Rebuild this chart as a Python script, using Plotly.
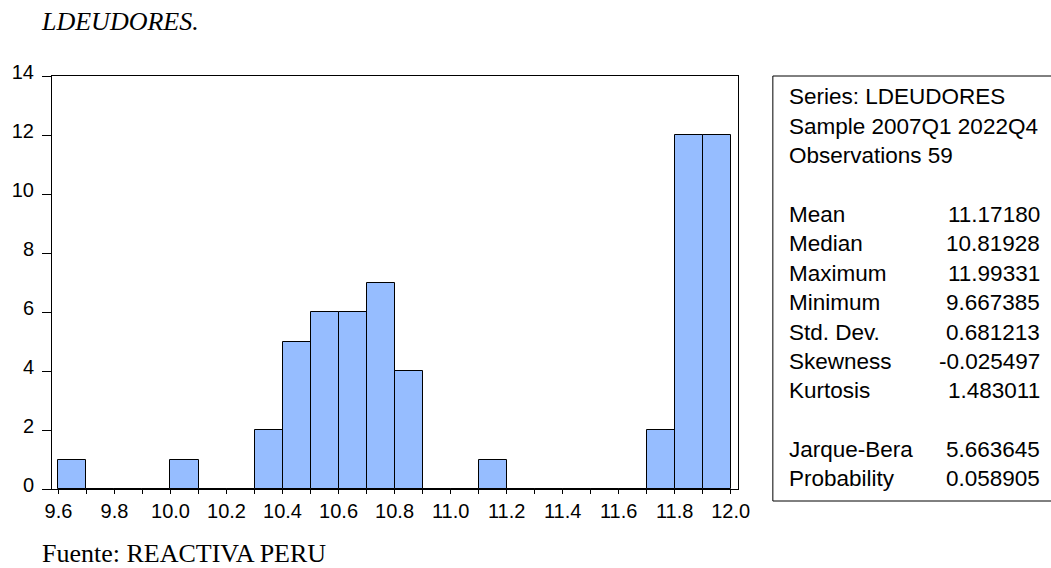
import plotly.graph_objects as go

# ---- data ----
bin_lefts = [9.6, 9.7, 9.8, 9.9, 10.0, 10.1, 10.2, 10.3, 10.4, 10.5, 10.6, 10.7,
             10.8, 10.9, 11.0, 11.1, 11.2, 11.3, 11.4, 11.5, 11.6, 11.7, 11.8, 11.9]
counts = [1, 0, 0, 0, 1, 0, 0, 2, 5, 6, 6, 7,
          4, 0, 0, 1, 0, 0, 0, 0, 0, 2, 12, 12]
bin_width = 0.1

x_tickvals = [9.6, 9.8, 10.0, 10.2, 10.4, 10.6, 10.8, 11.0, 11.2, 11.4, 11.6, 11.8, 12.0]
x_ticktext = ["9.6", "9.8", "10.0", "10.2", "10.4", "10.6", "10.8", "11.0", "11.2",
              "11.4", "11.6", "11.8", "12.0"]
y_tickvals = [0, 2, 4, 6, 8, 10, 12, 14]

header_lines = ["Series: LDEUDORES", "Sample 2007Q1 2022Q4", "Observations 59"]
stat_labels = ["Mean", "Median", "Maximum", "Minimum", "Std. Dev.", "Skewness", "Kurtosis"]
stat_values = ["11.17180", "10.81928", "11.99331", "9.667385", "0.681213", "-0.025497", "1.483011"]
test_labels = ["Jarque-Bera", "Probability"]
test_values = ["5.663645", "0.058905"]

title_text = "LDEUDORES."
source_text = "Fuente: REACTIVA PERU"

# ---- layout geometry (pixels) ----
W, H = 1051, 568
L, R, T, B = 49, 313, 76, 79
plot_w = W - L - R
plot_h = H - T - B


def px_x(p):
    return (p - L) / plot_w


def px_y(p):
    return (H - B - p) / plot_h


fig = go.Figure()
fig.add_trace(go.Bar(
    x=bin_lefts, y=counts, width=bin_width, offset=0,
    marker=dict(color="rgb(150,189,255)", line=dict(color="black", width=1)),
    hoverinfo="skip",
))

fig.update_xaxes(
    range=[9.577, 12.026], tickvals=x_tickvals, ticktext=x_ticktext,
    ticks="outside", ticklen=4, tickcolor="black", tickwidth=1,
    minor=dict(tickvals=bin_lefts, ticks="outside", ticklen=4, tickcolor="black", tickwidth=1),
    showline=True, linecolor="black", linewidth=1, mirror=True,
    showgrid=False, zeroline=False,
    tickfont=dict(family="Liberation Sans, Arial", size=20, color="black"),
)
fig.update_yaxes(
    range=[0, 14], tickvals=y_tickvals,
    ticks="outside", ticklen=9, tickcolor="black", tickwidth=1,
    showline=True, linecolor="black", linewidth=1, mirror=True,
    showgrid=False, zeroline=False, ticklabelstandoff=4, ticklabelshift=-4,
    tickfont=dict(family="Liberation Sans, Arial", size=20, color="black"),
)

annotations = []
sfont = dict(family="Liberation Sans, Arial", size=22.5, color="black")
x_lab = px_x(787)
x_val = px_x(1043)
y0, step = 97, 29.38
for i, t in enumerate(header_lines):
    annotations.append(dict(text=t, x=x_lab, y=px_y(y0 + step * i), xref="paper", yref="paper",
                            xanchor="left", yanchor="middle", showarrow=False, font=sfont))
for i, (lab, val) in enumerate(zip(stat_labels, stat_values)):
    yy = px_y(y0 + step * (i + 4))
    annotations.append(dict(text=lab, x=x_lab, y=yy, xref="paper", yref="paper",
                            xanchor="left", yanchor="middle", showarrow=False, font=sfont))
    annotations.append(dict(text=val, x=x_val, y=yy, xref="paper", yref="paper",
                            xanchor="right", yanchor="middle", showarrow=False, font=sfont))
for i, (lab, val) in enumerate(zip(test_labels, test_values)):
    yy = px_y(y0 + step * (i + 12))
    annotations.append(dict(text=lab, x=x_lab, y=yy, xref="paper", yref="paper",
                            xanchor="left", yanchor="middle", showarrow=False, font=sfont))
    annotations.append(dict(text=val, x=x_val, y=yy, xref="paper", yref="paper",
                            xanchor="right", yanchor="middle", showarrow=False, font=sfont))

tfont = dict(family="Liberation Serif, Times New Roman", size=26, color="black")
annotations.append(dict(text="<i>" + title_text + "</i>", x=px_x(36), y=px_y(22), xref="paper", yref="paper",
                        xanchor="left", yanchor="middle", showarrow=False, font=tfont))
annotations.append(dict(text=source_text, x=px_x(37), y=px_y(553), xref="paper", yref="paper",
                        xanchor="left", yanchor="middle", showarrow=False, font=tfont))

shapes = [dict(type="rect", xref="paper", yref="paper",
               x0=px_x(773), x1=px_x(1060), y0=px_y(501), y1=px_y(76),
               line=dict(color="black", width=1), fillcolor="rgba(0,0,0,0)", layer="above")]

fig.update_layout(
    width=W, height=H, margin=dict(l=L, r=R, t=T, b=B, pad=0),
    paper_bgcolor="white", plot_bgcolor="white",
    showlegend=False, bargap=0,
    annotations=annotations, shapes=shapes,
)

fig.write_html("out.html")
